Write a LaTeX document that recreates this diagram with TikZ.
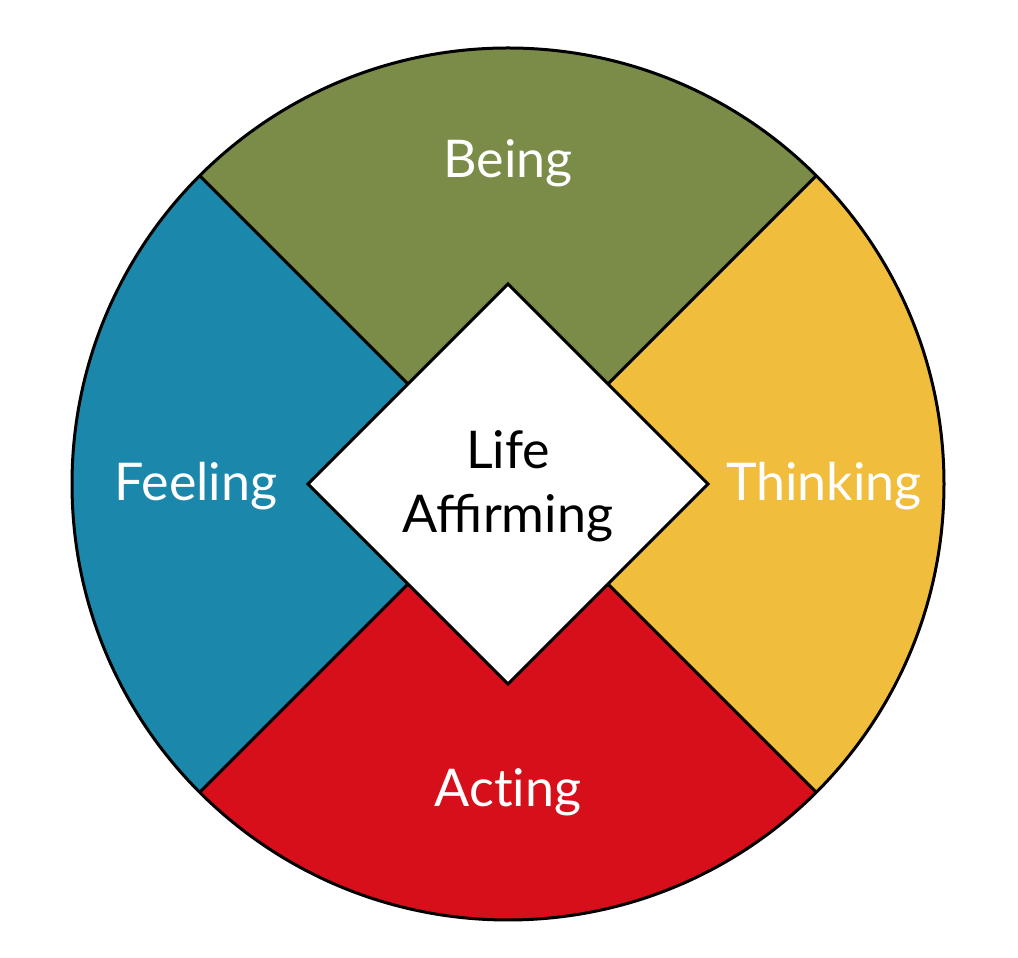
\documentclass[tikz,border=0pt]{standalone}
\usepackage{fontspec}
\setmainfont{Lato}
\usetikzlibrary{calc}
\definecolor{cgreen}{HTML}{7A8C48}
\definecolor{cblue}{HTML}{1B87AA}
\definecolor{cyellow}{HTML}{F0BE3C}
\definecolor{cred}{HTML}{D60F1A}
\tikzset{
  edge/.style={draw=black,line width=3pt,line join=miter},
  lab/.style={text=white,font=\fontsize{52}{64}\selectfont,align=center},
}
\begin{document}
\begin{tikzpicture}[x=1pt,y=1pt]
\useasboundingbox (0,0) rectangle (1018,958);
\coordinate (C) at (508,474);
\def\R{436}
\def\D{200}
% sectors
\fill[cgreen] (C) -- ++(45:\R) arc (45:135:\R) -- cycle;
\fill[cblue] (C) -- ++(135:\R) arc (135:225:\R) -- cycle;
\fill[cred] (C) -- ++(225:\R) arc (225:315:\R) -- cycle;
\fill[cyellow] (C) -- ++(-45:\R) arc (-45:45:\R) -- cycle;
% diamond
\coordinate (dT) at ($(C)+(0,\D)$);
\coordinate (dB) at ($(C)+(0,-\D)$);
\coordinate (dL) at ($(C)+(-\D,0)$);
\coordinate (dR) at ($(C)+(\D,0)$);
\coordinate (mTL) at ($(C)+(135:141.4)$);
\coordinate (mTR) at ($(C)+(45:141.4)$);
\coordinate (mBL) at ($(C)+(225:141.4)$);
\coordinate (mBR) at ($(C)+(315:141.4)$);
\coordinate (oTL) at ($(C)+(135:\R)$);
\coordinate (oTR) at ($(C)+(45:\R)$);
\coordinate (oBL) at ($(C)+(225:\R)$);
\coordinate (oBR) at ($(C)+(315:\R)$);
\draw[edge] (mTL) -- (oTL);
\draw[edge] (mTR) -- (oTR);
\draw[edge] (mBL) -- (oBL);
\draw[edge] (mBR) -- (oBR);
\draw[edge,fill=white] (dT) -- (dR) -- (dB) -- (dL) -- cycle;
\draw[edge] (C) circle (\R);
% labels
\node[lab] (being) at (508,795) {Being};
\node[lab] (feeling) at (196,472) {Feeling};
\node[lab] (thinking) at (824,472) {Thinking};
\node[lab] (acting) at (508,166) {\addfontfeatures{Ligatures={NoCommon,NoRare,NoContextual}}Ac\kern0pt t\kern0pt ing};
\node[lab,text=black] (life) at (508,472) {Life\\Affirming};
\end{tikzpicture}
\end{document}
